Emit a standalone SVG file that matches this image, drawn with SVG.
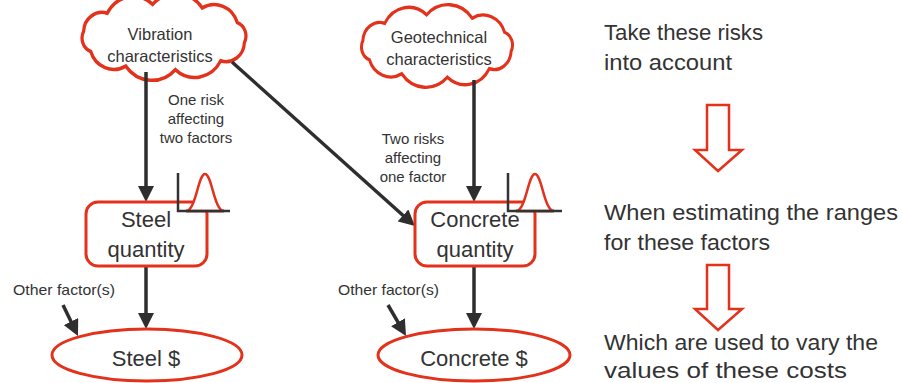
<svg xmlns="http://www.w3.org/2000/svg" width="902" height="383" viewBox="0 0 902 383">
<style>
.red{fill:#fff;stroke:#e3321c;stroke-width:3}
.cloud{fill:#fff;stroke:#e3321c;stroke-width:3.2}
.txt{font-family:"Liberation Sans",Arial,sans-serif;fill:#333}
.big{font-size:22px}
.mid{font-size:16.5px}
.sm{font-size:15px}
.con{stroke:#2e2e2e;stroke-width:3.5;fill:none;marker-end:url(#ah)}
.axis{stroke:#333;stroke-width:2.5;fill:none}
.bell{stroke:#e3321c;stroke-width:2.5;fill:#fff}
.bigarrow{fill:#fff;stroke:#e3321c;stroke-width:2.5}
</style>
<defs>
<marker id="ah" viewBox="0 0 16 16" refX="8" refY="8" markerWidth="16" markerHeight="16" orient="auto" markerUnits="userSpaceOnUse">
<path d="M0,0 L16,8 L0,16 z" fill="#2e2e2e"/>
</marker>
<path id="cloudShape" d="M78.8,5.2 A18,18 0 0 1 55.6,21.6 A29,29 0 0 1 11.1,29.7 A32,32 0 0 1 -37.5,26.5 A24,24 0 0 1 -71.9,13.1 A13,13 0 0 1 -78.8,-5.2 A18,18 0 0 1 -55.6,-21.6 A29,29 0 0 1 -11.1,-29.7 A32,32 0 0 1 37.5,-26.5 A24,24 0 0 1 71.9,-13.1 A13,13 0 0 1 78.8,5.2 Z"/>
</defs>
<rect width="902" height="383" fill="#fff"/>

<g id="vibration">
<use href="#cloudShape" class="cloud" transform="translate(164,37) scale(1.02,1.1)" style="vector-effect:non-scaling-stroke"/>
<text class="txt mid" x="160" y="40" text-anchor="middle">Vibration</text>
<text class="txt mid" x="160" y="62" text-anchor="middle">characteristics</text>
</g>

<g id="geotechnical">
<use href="#cloudShape" class="cloud" transform="translate(437,46) scale(0.94,1.05)" style="vector-effect:non-scaling-stroke"/>
<text class="txt mid" x="439" y="43" text-anchor="middle">Geotechnical</text>
<text class="txt mid" x="439" y="65" text-anchor="middle">characteristics</text>
</g>

<g id="connectors">
<line class="con" x1="146" y1="72" x2="146" y2="194"/>
<line class="con" x1="474" y1="80" x2="474" y2="194"/>
<line class="con" x1="232" y1="62" x2="409" y2="220.7"/>
<line class="con" x1="146" y1="266" x2="146" y2="321"/>
<line class="con" x1="474" y1="266" x2="474" y2="321"/>
<line class="con" x1="63" y1="305" x2="74.5" y2="328.8"/>
<line class="con" x1="388" y1="305" x2="402" y2="329.1"/>
</g>

<g id="steel-quantity">
<rect class="red" x="86" y="202" width="121" height="64" rx="12"/>
<path class="axis" d="M178,173 V211 H230"/>
<path class="bell" d="M186,211 C196,211 198,174 205,174 C212,174 214,211 224,211 Z"/>
<path d="M186,211 H224" stroke="#333" stroke-width="2.5"/>
<text class="txt big" x="146" y="227" text-anchor="middle">Steel</text>
<text class="txt big" x="146" y="257" text-anchor="middle">quantity</text>
</g>

<g id="concrete-quantity">
<rect class="red" x="415" y="202" width="120" height="64" rx="12"/>
<path class="axis" d="M508,173 V211 H562"/>
<path class="bell" d="M516,211 C526,211 528,174 535,174 C542,174 544,211 554,211 Z"/>
<path d="M516,211 H554" stroke="#333" stroke-width="2.5"/>
<text class="txt big" x="475" y="227" text-anchor="middle">Concrete</text>
<text class="txt big" x="475" y="257" text-anchor="middle">quantity</text>
</g>

<g id="steel-cost">
<ellipse class="red" cx="147" cy="355" rx="95" ry="26"/>
<text class="txt big" x="146" y="366" text-anchor="middle">Steel $</text>
</g>

<g id="concrete-cost">
<ellipse class="red" cx="474" cy="355" rx="96" ry="26"/>
<text class="txt big" x="474" y="366" text-anchor="middle">Concrete $</text>
</g>

<g id="labels">
<text class="txt sm" x="196" y="105" text-anchor="middle">One risk</text>
<text class="txt sm" x="196" y="124" text-anchor="middle">affecting</text>
<text class="txt sm" x="196" y="143" text-anchor="middle">two factors</text>
<text class="txt sm" x="413" y="144" text-anchor="middle">Two risks</text>
<text class="txt sm" x="413" y="163" text-anchor="middle">affecting</text>
<text class="txt sm" x="413" y="182" text-anchor="middle">one factor</text>
<text class="txt sm" x="13" y="295" textLength="102" lengthAdjust="spacingAndGlyphs">Other factor(s)</text>
<text class="txt sm" x="338" y="295" textLength="101" lengthAdjust="spacingAndGlyphs">Other factor(s)</text>
</g>

<g id="steps">
<text class="txt big" x="604" y="40" textLength="159" lengthAdjust="spacingAndGlyphs">Take these risks</text>
<text class="txt big" x="604" y="70" textLength="128" lengthAdjust="spacingAndGlyphs">into account</text>
<path class="bigarrow" d="M707,105 H729 V150 H742 L718,171 L695,150 H707 Z"/>
<text class="txt big" x="604" y="220" textLength="294" lengthAdjust="spacingAndGlyphs">When estimating the ranges</text>
<text class="txt big" x="604" y="250" textLength="166" lengthAdjust="spacingAndGlyphs">for these factors</text>
<path class="bigarrow" d="M707,265 H729 V309 H742 L718,330 L695,309 H707 Z"/>
<text class="txt big" x="604" y="350" textLength="274" lengthAdjust="spacingAndGlyphs">Which are used to vary the</text>
<text class="txt big" x="604" y="378" textLength="243" lengthAdjust="spacingAndGlyphs">values of these costs</text>
</g>
</svg>
